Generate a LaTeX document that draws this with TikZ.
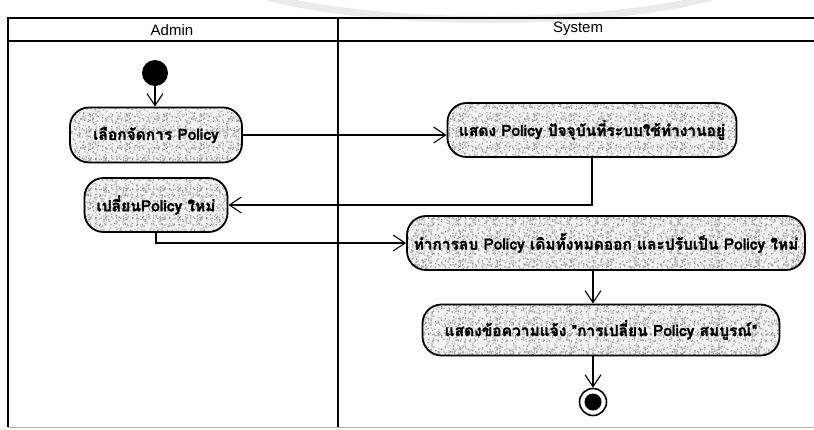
\documentclass[tikz,border=0pt]{standalone}
\usepackage{fontspec}
\setmainfont{Liberation Sans}
\newfontfamily\thaifont[Script=Thai, BoldFeatures={FakeBold=1.3}]{Loma}
\usetikzlibrary{arrows.meta,calc,patterns}

% two tiles of scattered specks used as the texture of the action boxes
\pgfmathsetseed{31}
\pgfdeclarepatternformonly{speckdark}{\pgfqpoint{0pt}{0pt}}{\pgfqpoint{37pt}{29pt}}{\pgfqpoint{37pt}{29pt}}{%
  \foreach \k in {1,...,85}{%
    \pgfmathsetmacro\sx{rnd*35.8}\pgfmathsetmacro\sy{rnd*27.8}%
    \pgfpathrectangle{\pgfpoint{\sx pt}{\sy pt}}{\pgfqpoint{1.2pt}{1.2pt}}%
    \pgfusepath{fill}%
  }%
}
\pgfdeclarepatternformonly{specklight}{\pgfqpoint{0pt}{0pt}}{\pgfqpoint{41pt}{31pt}}{\pgfqpoint{41pt}{31pt}}{%
  \foreach \k in {1,...,90}{%
    \pgfmathsetmacro\sx{rnd*39.4}\pgfmathsetmacro\sy{rnd*29.4}%
    \pgfpathrectangle{\pgfpoint{\sx pt}{\sy pt}}{\pgfqpoint{1.6pt}{1.6pt}}%
    \pgfusepath{fill}%
  }%
}

\begin{document}
\begin{tikzpicture}[x=1pt,y=-1pt,
  act/.style={draw=black, line width=1.8pt, rounded corners=19pt,
    preaction={fill=gray!10},
    preaction={pattern=specklight, pattern color=gray!45},
    preaction={pattern=speckdark, pattern color=gray!85},
    inner sep=0pt, align=center,
    font=\thaifont\bfseries\fontsize{15.5}{17}\selectfont},
  flow/.style={draw=black, line width=1.1pt,
    -{Straight Barb[length=12pt,width=16pt,line width=1.1pt]}},
  lane/.style={draw=black, line width=1.6pt},
  lanehead/.style={font=\fontsize{15}{17}\selectfont, inner sep=0pt},
  initial/.style={circle, fill=black, minimum size=26pt, inner sep=0pt},
  final/.style={circle, draw=black, line width=1.6pt, minimum size=27pt, inner sep=0pt,
    path picture={\fill[black] (path picture bounding box.center) circle[radius=8.5];}}
]
\useasboundingbox (0,0) rectangle (814,429);

% faint watermark band along the top edge
\draw[gray!16, line width=7pt] (268,-3) .. controls (380,27) and (600,27) .. (712,-3);

% swimlane frame
\draw[gray!60, line width=0.8pt] (8,427) -- (814,427);
\draw[lane] (8,427) -- (8,18) -- (814,18);
\draw[lane] (8,41) -- (814,41);
\draw[lane] (338,18) -- (338,427);
\node[lanehead] (hadmin) at (172,30) {Admin};
\node[lanehead] (hsystem) at (578,29) {System};

% activities
\node[initial] (start) at (155,73) {};
\node[act, minimum width=172pt, minimum height=55pt] (n1) at (156,135) {เลือกจัดการ Policy};
\node[act, minimum width=289pt, minimum height=54pt] (n2) at (592,130) {แสดง Policy ปัจจุบันที่ระบบใช้ทำงานอยู่};
\node[act, minimum width=143pt, minimum height=54pt] (n3) at (156,205) {เปลี่ยนPolicy ใหม่};
\node[act, minimum width=398pt, minimum height=54pt] (n4) at (606,243) {ทำการลบ Policy เดิมทั้งหมดออก และปรับเป็น Policy ใหม่};
\node[act, minimum width=357pt, minimum height=51pt] (n5) at (601,330) {แสดงข้อความแจ้ง "การเปลี่ยน Policy สมบูรณ์"};
\node[final] (end) at (593,402) {};

% control flow
\draw[flow] (start) -- (start |- n1.north);
\draw[flow] (n1.east) -- (n1.east -| n2.west);
\draw[flow] (n2.south) |- (n3.east);
\draw[flow] (n3.south) |- (n4.west);
\draw[flow] (n4.south -| end) -- (n5.north -| end);
\draw[flow] (n5.south -| end) -- (end);
\end{tikzpicture}
\end{document}
